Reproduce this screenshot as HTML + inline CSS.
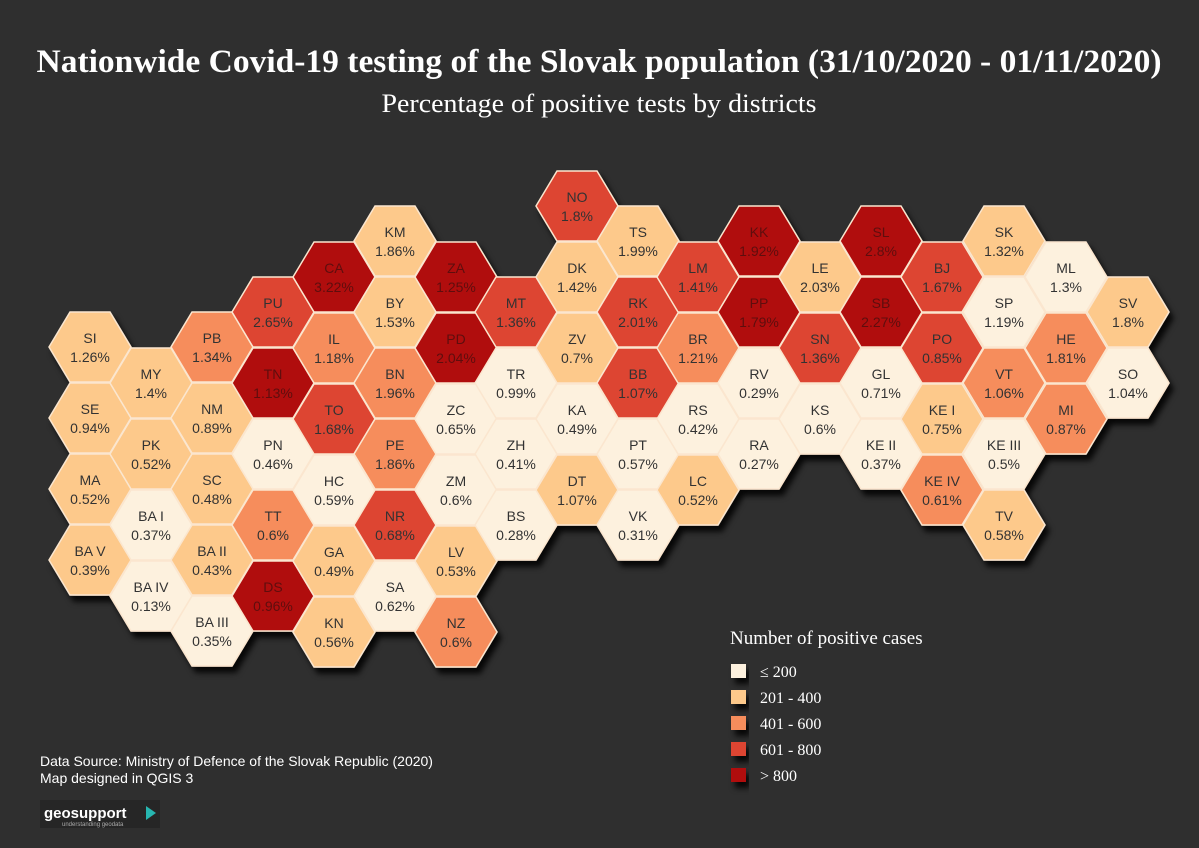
<!DOCTYPE html>
<html><head><meta charset="utf-8"><style>
html,body{margin:0;padding:0;background:#2f2f2f;}
svg{display:block;}
.t{font-family:"Liberation Sans",sans-serif;font-size:14px;fill:#333;text-anchor:middle;}
.e .t{fill:#5e0a0a;}
.A{fill:#fdf1de}.B{fill:#fdc98b}.C{fill:#f68d5c}.D{fill:#dd4431}.E{fill:#b00c0c}
</style></head><body>
<svg width="1199" height="848" viewBox="0 0 1199 848" xmlns="http://www.w3.org/2000/svg">
<defs>
<polygon id="h" points="-41,0 -20,-35 20,-35 41,0 20,35 -20,35" stroke="#fbe6cf" stroke-width="1.5"/>
<filter id="sh" x="-20%" y="-20%" width="140%" height="140%"><feDropShadow dx="4" dy="6" stdDeviation="3" flood-color="#000" flood-opacity="0.85"/></filter>
</defs>
<rect width="1199" height="848" fill="#2f2f2f"/>
<text x="599" y="72" text-anchor="middle" font-family="Liberation Serif,serif" font-weight="bold" font-size="33" fill="#fff" textLength="1125" lengthAdjust="spacingAndGlyphs">Nationwide Covid-19 testing of the Slovak population (31/10/2020 - 01/11/2020)</text>
<text x="599" y="112" text-anchor="middle" font-family="Liberation Serif,serif" font-size="26" fill="#fff" textLength="435" lengthAdjust="spacingAndGlyphs">Percentage of positive tests by districts</text>
<g filter="url(#sh)">
<g transform="translate(90,347)"><use href="#h" class="B"/><text class="t"><tspan x="0" y="-4">SI</tspan><tspan x="0" y="15">1.26%</tspan></text></g>
<g transform="translate(90,418)"><use href="#h" class="B"/><text class="t"><tspan x="0" y="-4">SE</tspan><tspan x="0" y="15">0.94%</tspan></text></g>
<g transform="translate(90,489)"><use href="#h" class="B"/><text class="t"><tspan x="0" y="-4">MA</tspan><tspan x="0" y="15">0.52%</tspan></text></g>
<g transform="translate(90,560)"><use href="#h" class="B"/><text class="t"><tspan x="0" y="-4">BA V</tspan><tspan x="0" y="15">0.39%</tspan></text></g>
<g transform="translate(151,383)"><use href="#h" class="B"/><text class="t"><tspan x="0" y="-4">MY</tspan><tspan x="0" y="15">1.4%</tspan></text></g>
<g transform="translate(151,454)"><use href="#h" class="B"/><text class="t"><tspan x="0" y="-4">PK</tspan><tspan x="0" y="15">0.52%</tspan></text></g>
<g transform="translate(151,525)"><use href="#h" class="A"/><text class="t"><tspan x="0" y="-4">BA I</tspan><tspan x="0" y="15">0.37%</tspan></text></g>
<g transform="translate(151,596)"><use href="#h" class="A"/><text class="t"><tspan x="0" y="-4">BA IV</tspan><tspan x="0" y="15">0.13%</tspan></text></g>
<g transform="translate(212,347)"><use href="#h" class="C"/><text class="t"><tspan x="0" y="-4">PB</tspan><tspan x="0" y="15">1.34%</tspan></text></g>
<g transform="translate(212,418)"><use href="#h" class="B"/><text class="t"><tspan x="0" y="-4">NM</tspan><tspan x="0" y="15">0.89%</tspan></text></g>
<g transform="translate(212,489)"><use href="#h" class="B"/><text class="t"><tspan x="0" y="-4">SC</tspan><tspan x="0" y="15">0.48%</tspan></text></g>
<g transform="translate(212,560)"><use href="#h" class="B"/><text class="t"><tspan x="0" y="-4">BA II</tspan><tspan x="0" y="15">0.43%</tspan></text></g>
<g transform="translate(212,631)"><use href="#h" class="A"/><text class="t"><tspan x="0" y="-4">BA III</tspan><tspan x="0" y="15">0.35%</tspan></text></g>
<g transform="translate(273,312)"><use href="#h" class="D"/><text class="t"><tspan x="0" y="-4">PU</tspan><tspan x="0" y="15">2.65%</tspan></text></g>
<g class="e" transform="translate(273,383)"><use href="#h" class="E"/><text class="t"><tspan x="0" y="-4">TN</tspan><tspan x="0" y="15">1.13%</tspan></text></g>
<g transform="translate(273,454)"><use href="#h" class="A"/><text class="t"><tspan x="0" y="-4">PN</tspan><tspan x="0" y="15">0.46%</tspan></text></g>
<g transform="translate(273,525)"><use href="#h" class="C"/><text class="t"><tspan x="0" y="-4">TT</tspan><tspan x="0" y="15">0.6%</tspan></text></g>
<g class="e" transform="translate(273,596)"><use href="#h" class="E"/><text class="t"><tspan x="0" y="-4">DS</tspan><tspan x="0" y="15">0.96%</tspan></text></g>
<g class="e" transform="translate(334,277)"><use href="#h" class="E"/><text class="t"><tspan x="0" y="-4">CA</tspan><tspan x="0" y="15">3.22%</tspan></text></g>
<g transform="translate(334,348)"><use href="#h" class="C"/><text class="t"><tspan x="0" y="-4">IL</tspan><tspan x="0" y="15">1.18%</tspan></text></g>
<g transform="translate(334,419)"><use href="#h" class="D"/><text class="t"><tspan x="0" y="-4">TO</tspan><tspan x="0" y="15">1.68%</tspan></text></g>
<g transform="translate(334,490)"><use href="#h" class="A"/><text class="t"><tspan x="0" y="-4">HC</tspan><tspan x="0" y="15">0.59%</tspan></text></g>
<g transform="translate(334,561)"><use href="#h" class="B"/><text class="t"><tspan x="0" y="-4">GA</tspan><tspan x="0" y="15">0.49%</tspan></text></g>
<g transform="translate(334,632)"><use href="#h" class="B"/><text class="t"><tspan x="0" y="-4">KN</tspan><tspan x="0" y="15">0.56%</tspan></text></g>
<g transform="translate(395,241)"><use href="#h" class="B"/><text class="t"><tspan x="0" y="-4">KM</tspan><tspan x="0" y="15">1.86%</tspan></text></g>
<g transform="translate(395,312)"><use href="#h" class="B"/><text class="t"><tspan x="0" y="-4">BY</tspan><tspan x="0" y="15">1.53%</tspan></text></g>
<g transform="translate(395,383)"><use href="#h" class="C"/><text class="t"><tspan x="0" y="-4">BN</tspan><tspan x="0" y="15">1.96%</tspan></text></g>
<g transform="translate(395,454)"><use href="#h" class="C"/><text class="t"><tspan x="0" y="-4">PE</tspan><tspan x="0" y="15">1.86%</tspan></text></g>
<g transform="translate(395,525)"><use href="#h" class="D"/><text class="t"><tspan x="0" y="-4">NR</tspan><tspan x="0" y="15">0.68%</tspan></text></g>
<g transform="translate(395,596)"><use href="#h" class="A"/><text class="t"><tspan x="0" y="-4">SA</tspan><tspan x="0" y="15">0.62%</tspan></text></g>
<g class="e" transform="translate(456,277)"><use href="#h" class="E"/><text class="t"><tspan x="0" y="-4">ZA</tspan><tspan x="0" y="15">1.25%</tspan></text></g>
<g class="e" transform="translate(456,348)"><use href="#h" class="E"/><text class="t"><tspan x="0" y="-4">PD</tspan><tspan x="0" y="15">2.04%</tspan></text></g>
<g transform="translate(456,419)"><use href="#h" class="A"/><text class="t"><tspan x="0" y="-4">ZC</tspan><tspan x="0" y="15">0.65%</tspan></text></g>
<g transform="translate(456,490)"><use href="#h" class="A"/><text class="t"><tspan x="0" y="-4">ZM</tspan><tspan x="0" y="15">0.6%</tspan></text></g>
<g transform="translate(456,561)"><use href="#h" class="B"/><text class="t"><tspan x="0" y="-4">LV</tspan><tspan x="0" y="15">0.53%</tspan></text></g>
<g transform="translate(456,632)"><use href="#h" class="C"/><text class="t"><tspan x="0" y="-4">NZ</tspan><tspan x="0" y="15">0.6%</tspan></text></g>
<g transform="translate(516,312)"><use href="#h" class="D"/><text class="t"><tspan x="0" y="-4">MT</tspan><tspan x="0" y="15">1.36%</tspan></text></g>
<g transform="translate(516,383)"><use href="#h" class="A"/><text class="t"><tspan x="0" y="-4">TR</tspan><tspan x="0" y="15">0.99%</tspan></text></g>
<g transform="translate(516,454)"><use href="#h" class="A"/><text class="t"><tspan x="0" y="-4">ZH</tspan><tspan x="0" y="15">0.41%</tspan></text></g>
<g transform="translate(516,525)"><use href="#h" class="A"/><text class="t"><tspan x="0" y="-4">BS</tspan><tspan x="0" y="15">0.28%</tspan></text></g>
<g transform="translate(577,206)"><use href="#h" class="D"/><text class="t"><tspan x="0" y="-4">NO</tspan><tspan x="0" y="15">1.8%</tspan></text></g>
<g transform="translate(577,277)"><use href="#h" class="B"/><text class="t"><tspan x="0" y="-4">DK</tspan><tspan x="0" y="15">1.42%</tspan></text></g>
<g transform="translate(577,348)"><use href="#h" class="B"/><text class="t"><tspan x="0" y="-4">ZV</tspan><tspan x="0" y="15">0.7%</tspan></text></g>
<g transform="translate(577,419)"><use href="#h" class="A"/><text class="t"><tspan x="0" y="-4">KA</tspan><tspan x="0" y="15">0.49%</tspan></text></g>
<g transform="translate(577,490)"><use href="#h" class="B"/><text class="t"><tspan x="0" y="-4">DT</tspan><tspan x="0" y="15">1.07%</tspan></text></g>
<g transform="translate(638,241)"><use href="#h" class="B"/><text class="t"><tspan x="0" y="-4">TS</tspan><tspan x="0" y="15">1.99%</tspan></text></g>
<g transform="translate(638,312)"><use href="#h" class="D"/><text class="t"><tspan x="0" y="-4">RK</tspan><tspan x="0" y="15">2.01%</tspan></text></g>
<g transform="translate(638,383)"><use href="#h" class="D"/><text class="t"><tspan x="0" y="-4">BB</tspan><tspan x="0" y="15">1.07%</tspan></text></g>
<g transform="translate(638,454)"><use href="#h" class="A"/><text class="t"><tspan x="0" y="-4">PT</tspan><tspan x="0" y="15">0.57%</tspan></text></g>
<g transform="translate(638,525)"><use href="#h" class="A"/><text class="t"><tspan x="0" y="-4">VK</tspan><tspan x="0" y="15">0.31%</tspan></text></g>
<g transform="translate(698,277)"><use href="#h" class="D"/><text class="t"><tspan x="0" y="-4">LM</tspan><tspan x="0" y="15">1.41%</tspan></text></g>
<g transform="translate(698,348)"><use href="#h" class="C"/><text class="t"><tspan x="0" y="-4">BR</tspan><tspan x="0" y="15">1.21%</tspan></text></g>
<g transform="translate(698,419)"><use href="#h" class="A"/><text class="t"><tspan x="0" y="-4">RS</tspan><tspan x="0" y="15">0.42%</tspan></text></g>
<g transform="translate(698,490)"><use href="#h" class="B"/><text class="t"><tspan x="0" y="-4">LC</tspan><tspan x="0" y="15">0.52%</tspan></text></g>
<g class="e" transform="translate(759,241)"><use href="#h" class="E"/><text class="t"><tspan x="0" y="-4">KK</tspan><tspan x="0" y="15">1.92%</tspan></text></g>
<g class="e" transform="translate(759,312)"><use href="#h" class="E"/><text class="t"><tspan x="0" y="-4">PP</tspan><tspan x="0" y="15">1.79%</tspan></text></g>
<g transform="translate(759,383)"><use href="#h" class="A"/><text class="t"><tspan x="0" y="-4">RV</tspan><tspan x="0" y="15">0.29%</tspan></text></g>
<g transform="translate(759,454)"><use href="#h" class="A"/><text class="t"><tspan x="0" y="-4">RA</tspan><tspan x="0" y="15">0.27%</tspan></text></g>
<g transform="translate(820,277)"><use href="#h" class="B"/><text class="t"><tspan x="0" y="-4">LE</tspan><tspan x="0" y="15">2.03%</tspan></text></g>
<g transform="translate(820,348)"><use href="#h" class="D"/><text class="t"><tspan x="0" y="-4">SN</tspan><tspan x="0" y="15">1.36%</tspan></text></g>
<g transform="translate(820,419)"><use href="#h" class="A"/><text class="t"><tspan x="0" y="-4">KS</tspan><tspan x="0" y="15">0.6%</tspan></text></g>
<g class="e" transform="translate(881,241)"><use href="#h" class="E"/><text class="t"><tspan x="0" y="-4">SL</tspan><tspan x="0" y="15">2.8%</tspan></text></g>
<g class="e" transform="translate(881,312)"><use href="#h" class="E"/><text class="t"><tspan x="0" y="-4">SB</tspan><tspan x="0" y="15">2.27%</tspan></text></g>
<g transform="translate(881,383)"><use href="#h" class="A"/><text class="t"><tspan x="0" y="-4">GL</tspan><tspan x="0" y="15">0.71%</tspan></text></g>
<g transform="translate(881,454)"><use href="#h" class="A"/><text class="t"><tspan x="0" y="-4">KE II</tspan><tspan x="0" y="15">0.37%</tspan></text></g>
<g transform="translate(942,277)"><use href="#h" class="D"/><text class="t"><tspan x="0" y="-4">BJ</tspan><tspan x="0" y="15">1.67%</tspan></text></g>
<g transform="translate(942,348)"><use href="#h" class="D"/><text class="t"><tspan x="0" y="-4">PO</tspan><tspan x="0" y="15">0.85%</tspan></text></g>
<g transform="translate(942,419)"><use href="#h" class="B"/><text class="t"><tspan x="0" y="-4">KE I</tspan><tspan x="0" y="15">0.75%</tspan></text></g>
<g transform="translate(942,490)"><use href="#h" class="C"/><text class="t"><tspan x="0" y="-4">KE IV</tspan><tspan x="0" y="15">0.61%</tspan></text></g>
<g transform="translate(1004,241)"><use href="#h" class="B"/><text class="t"><tspan x="0" y="-4">SK</tspan><tspan x="0" y="15">1.32%</tspan></text></g>
<g transform="translate(1004,312)"><use href="#h" class="A"/><text class="t"><tspan x="0" y="-4">SP</tspan><tspan x="0" y="15">1.19%</tspan></text></g>
<g transform="translate(1004,383)"><use href="#h" class="C"/><text class="t"><tspan x="0" y="-4">VT</tspan><tspan x="0" y="15">1.06%</tspan></text></g>
<g transform="translate(1004,454)"><use href="#h" class="A"/><text class="t"><tspan x="0" y="-4">KE III</tspan><tspan x="0" y="15">0.5%</tspan></text></g>
<g transform="translate(1004,525)"><use href="#h" class="B"/><text class="t"><tspan x="0" y="-4">TV</tspan><tspan x="0" y="15">0.58%</tspan></text></g>
<g transform="translate(1066,277)"><use href="#h" class="A"/><text class="t"><tspan x="0" y="-4">ML</tspan><tspan x="0" y="15">1.3%</tspan></text></g>
<g transform="translate(1066,348)"><use href="#h" class="C"/><text class="t"><tspan x="0" y="-4">HE</tspan><tspan x="0" y="15">1.81%</tspan></text></g>
<g transform="translate(1066,419)"><use href="#h" class="C"/><text class="t"><tspan x="0" y="-4">MI</tspan><tspan x="0" y="15">0.87%</tspan></text></g>
<g transform="translate(1128,312)"><use href="#h" class="B"/><text class="t"><tspan x="0" y="-4">SV</tspan><tspan x="0" y="15">1.8%</tspan></text></g>
<g transform="translate(1128,383)"><use href="#h" class="A"/><text class="t"><tspan x="0" y="-4">SO</tspan><tspan x="0" y="15">1.04%</tspan></text></g>
</g>
<g font-family="Liberation Serif,serif" fill="#fff">
<text x="730" y="644" font-size="19">Number of positive cases</text>
<g filter="url(#sh)">
<rect x="731" y="664" width="15" height="14" class="A"/>
<rect x="731" y="690" width="15" height="14" class="B"/>
<rect x="731" y="716" width="15" height="14" class="C"/>
<rect x="731" y="742" width="15" height="14" class="D"/>
<rect x="731" y="768" width="15" height="14" class="E"/>
</g>
<text x="760" y="677" font-size="16">≤ 200</text>
<text x="760" y="703" font-size="16">201 - 400</text>
<text x="760" y="729" font-size="16">401 - 600</text>
<text x="760" y="755" font-size="16">601 - 800</text>
<text x="760" y="781" font-size="16">&gt; 800</text>
</g>
<g font-family="Liberation Sans,sans-serif" font-size="14" fill="#fff">
<text x="40" y="766">Data Source: Ministry of Defence of the Slovak Republic (2020)</text>
<text x="40" y="783">Map designed in QGIS 3</text>
</g>
<rect x="40" y="800" width="120" height="28" fill="#262626"/>
<text x="44" y="818" font-family="Liberation Sans,sans-serif" font-size="15" font-weight="bold" fill="#fff">geosupport</text>
<text x="62" y="826" font-family="Liberation Sans,sans-serif" font-size="6" fill="#aaa">understanding geodata</text>
<polygon points="146,806 156,813 146,820" fill="#27b6b0"/>
</svg>
</body></html>
